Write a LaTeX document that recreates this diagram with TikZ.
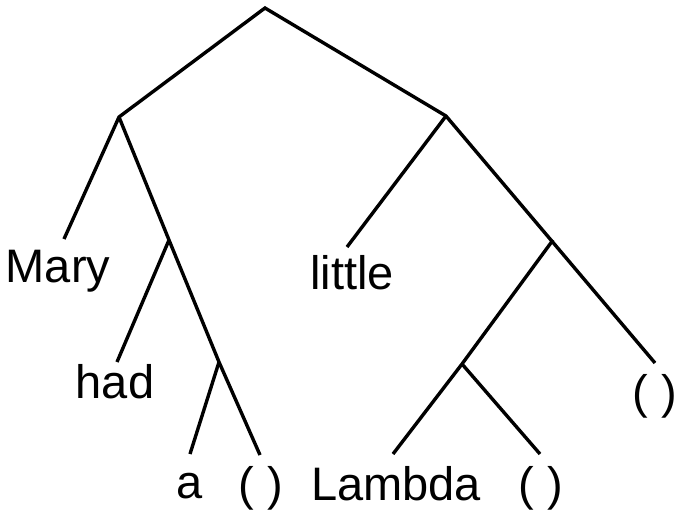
\documentclass[tikz,border=0pt]{standalone}
\usepackage{fontspec}
\setmainfont{Liberation Sans}
\begin{document}
\begin{tikzpicture}[x=1pt,y=-1pt,
  edge/.style={line width=3.4pt,line join=miter},
  word/.style={anchor=base,inner sep=0pt,font=\fontsize{47}{52}\selectfont}]
\useasboundingbox (0,0) rectangle (676,512);
% inner points
\coordinate (root) at (265,8);
\coordinate (L) at (119,117);
\coordinate (R) at (446,116);
\coordinate (j1) at (169,240);
\coordinate (j2) at (219,362);
\coordinate (j3) at (553,240);
\coordinate (j4) at (462,364);
% leaf ends
\coordinate (eMary) at (64,239);
\coordinate (ehad) at (117,362);
\coordinate (ea) at (190,454);
\coordinate (eA) at (260,455);
\coordinate (elittle) at (347,247);
\coordinate (eLambda) at (393,454);
\coordinate (eB) at (540,454);
\coordinate (eC) at (655,363);
% labels
\node[word] (Mary) at (58,282) {Mary};
\node[word] (had) at (115,398) {had};
\node[word] (a) at (190,498) {a};
\node[word] (pA) at (261,500) {( )};
\node[word] (little) at (352,289) {little};
\node[word] (Lambda) at (396,500) {Lambda};
\node[word] (pB) at (541,500) {( )};
\node[word] (pC) at (655,408) {( )};
% edges
\draw[edge] (eMary) -- (L) -- (root) -- (R) -- (eC);
\draw[edge] (L) -- (j1) -- (j2) -- (eA);
\draw[edge] (j1) -- (ehad);
\draw[edge] (j2) -- (ea);
\draw[edge] (R) -- (elittle);
\draw[edge] (j3) -- (j4) -- (eLambda);
\draw[edge] (j4) -- (eB);
\end{tikzpicture}
\end{document}
